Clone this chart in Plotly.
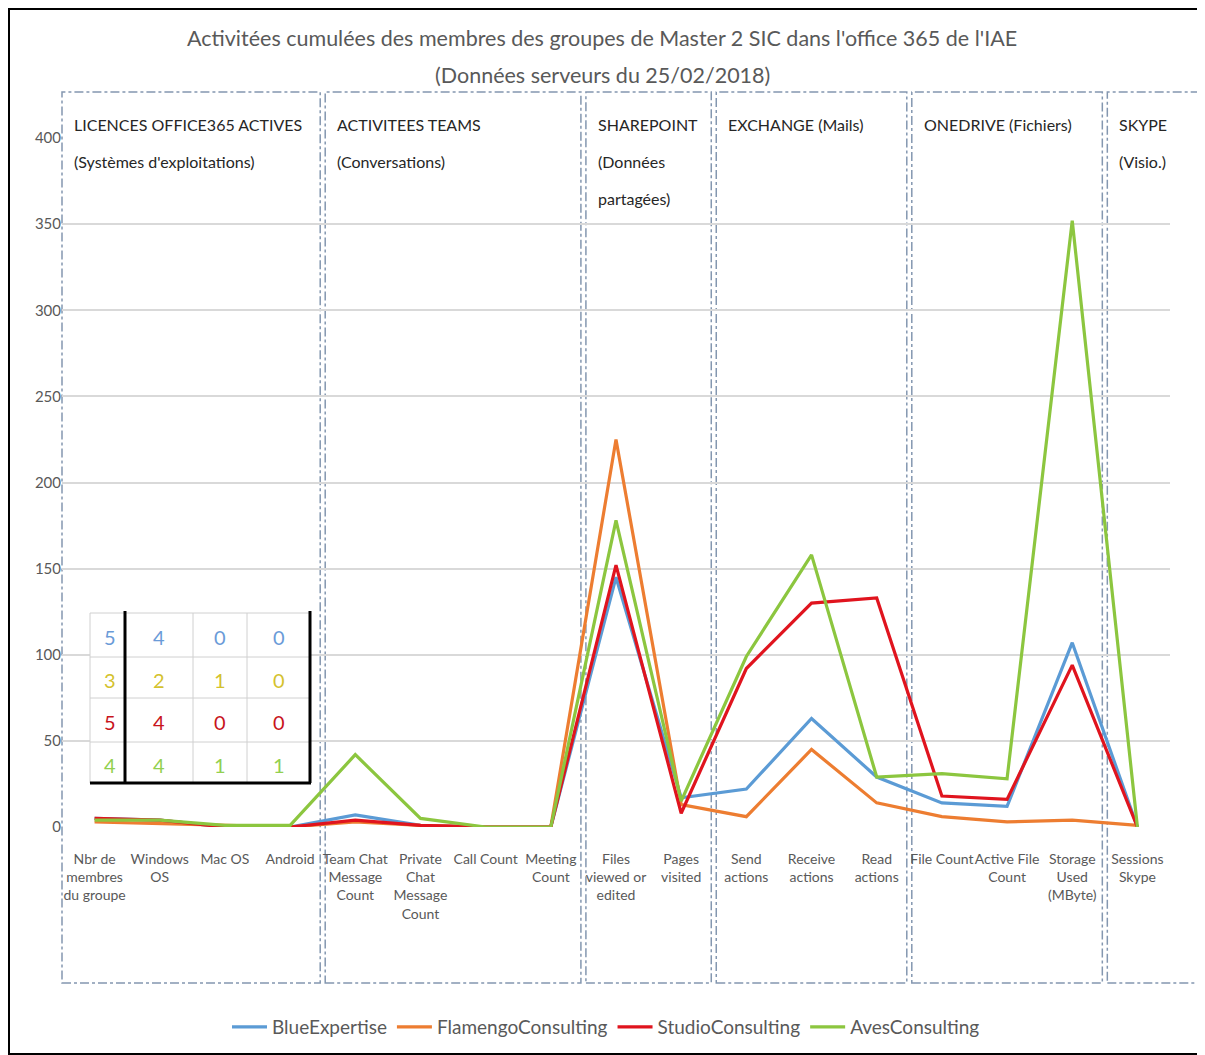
import plotly.graph_objects as go

# ---------------- data ----------------
categories = [
    "Nbr de<br>membres<br>du groupe", "Windows<br>OS", "Mac OS", "Android",
    "Team Chat<br>Message<br>Count", "Private<br>Chat<br>Message<br>Count", "Call Count", "Meeting<br>Count",
    "Files<br>viewed or<br>edited", "Pages<br>visited",
    "Send<br>actions", "Receive<br>actions", "Read<br>actions",
    "File Count", "Active File<br>Count", "Storage<br>Used<br>(MByte)",
    "Sessions<br>Skype",
]
blue_expertise      = [5, 4, 0, 0, 7, 1, 0, 0, 145, 17, 22, 63, 29, 14, 12, 107, 0]
flamengo_consulting = [3, 2, 1, 0, 3, 1, 0, 0, 225, 13, 6, 45, 14, 6, 3, 4, 1]
studio_consulting   = [5, 4, 0, 0, 4, 1, 0, 0, 152, 8, 92, 130, 133, 18, 16, 94, 0]
aves_consulting     = [4, 4, 1, 1, 42, 5, 0, 0, 178, 15, 99, 158, 29, 31, 28, 352, 0]

series_names = ["BlueExpertise", "FlamengoConsulting", "StudioConsulting", "AvesConsulting"]
series_values = [blue_expertise, flamengo_consulting, studio_consulting, aves_consulting]

group_names = [
    "LICENCES OFFICE365 ACTIVES\n(Systèmes d'exploitations)",
    "ACTIVITEES TEAMS\n(Conversations)",
    "SHAREPOINT\n(Données\npartagées)",
    "EXCHANGE (Mails)",
    "ONEDRIVE (Fichiers)",
    "SKYPE\n(Visio.)",
]
group_sizes = [4, 4, 2, 3, 3, 1]

y_ticks = [0, 50, 100, 150, 200, 250, 300, 350, 400]
title_lines = [
    "Activitées cumulées des membres des groupes de Master 2 SIC dans l'office 365 de l'IAE",
    "(Données serveurs du 25/02/2018)",
]

# ---------------- styling ----------------
line_colors = ["#5B9BD5", "#ED7D31", "#E0141E", "#8CC63F"]
table_colors = ["#6A9BD8", "#D4C22E", "#C8141C", "#92D050"]
FONT = "Lato, Roboto, Liberation Sans, sans-serif"
OFF = 8                      # page body margin
W, H = 1205 - OFF, 1055 - OFF
# plot area in reference-image pixels
RL, RR, RT, RB = 62, 1170, 138, 827


def px(x):
    return (x - RL) / (RR - RL)


def py(y):
    return (RB - y) / (RB - RT)


n_cat = len(categories)
fig = go.Figure()
for name, vals, col in zip(series_names, series_values, line_colors):
    fig.add_trace(go.Scatter(
        x=list(range(n_cat)), y=vals, mode="lines", name=name,
        line=dict(color=col, width=3.2),
    ))

shapes = []
annotations = []

# title
for i, t in enumerate(title_lines):
    annotations.append(dict(
        text=t, xref="paper", yref="paper", x=px(602), y=py(38 + 37 * i),
        xanchor="center", yanchor="middle", showarrow=False,
        font=dict(family=FONT, size=21.5, color="#595959"),
    ))

# group boxes and headers
start = 0
for gi, (gname, gsize) in enumerate(zip(group_names, group_sizes)):
    left = start / n_cat
    right = (start + gsize) / n_cat
    gap = 2.5 / (RR - RL)
    x0 = left + (gap if gi > 0 else 0)
    x1 = right - gap if gi < len(group_sizes) - 1 else px(1203)
    shapes.append(dict(
        type="rect", xref="paper", yref="paper", x0=x0, x1=x1, y0=py(983), y1=py(92),
        line=dict(color="#8497B0", width=1.5, dash="dashdot"), fillcolor="rgba(0,0,0,0)",
        layer="below",
    ))
    for li, ln in enumerate(gname.split("\n")):
        annotations.append(dict(
            text=ln, xref="paper", yref="paper", x=x0 + 10 / (RR - RL), y=py(124 + 37 * li),
            xanchor="left", yanchor="middle", showarrow=False,
            font=dict(family=FONT, size=16, color="#262626"),
        ))
    start += gsize

# inset table of first-group values
tbl_cols = [90, 125, 193, 247, 310]
tbl_rows = [613, 657, 698, 742, 783]
shapes.append(dict(type="rect", xref="paper", yref="paper",
                   x0=px(tbl_cols[0]), x1=px(tbl_cols[-1]), y0=py(tbl_rows[-1]), y1=py(tbl_rows[0]),
                   line=dict(color="#D0D0D0", width=1), fillcolor="white", layer="above"))
for xc in tbl_cols[2:-1]:
    shapes.append(dict(type="line", xref="paper", yref="paper", x0=px(xc), x1=px(xc),
                       y0=py(tbl_rows[-1]), y1=py(tbl_rows[0]), line=dict(color="#D0D0D0", width=1)))
for yr in tbl_rows[1:-1]:
    shapes.append(dict(type="line", xref="paper", yref="paper", x0=px(tbl_cols[0]), x1=px(tbl_cols[-1]),
                       y0=py(yr), y1=py(yr), line=dict(color="#D0D0D0", width=1)))
for (a, b, c, d) in [(tbl_cols[1], tbl_rows[0] - 2, tbl_cols[1], tbl_rows[-1]),
                     (tbl_cols[-1], tbl_rows[0] - 2, tbl_cols[-1], tbl_rows[-1]),
                     (tbl_cols[0], tbl_rows[-1], tbl_cols[-1] + 1, tbl_rows[-1])]:
    shapes.append(dict(type="line", xref="paper", yref="paper", x0=px(a), x1=px(c),
                       y0=py(b), y1=py(d), line=dict(color="black", width=3)))
n_first = group_sizes[0]
for ri, (vals, col) in enumerate(zip(series_values, table_colors)):
    for ci in range(n_first):
        xc = (tbl_cols[ci] + tbl_cols[ci + 1]) / 2 + (2 if ci == 0 else 0)
        yc = (tbl_rows[ri] + tbl_rows[ri + 1]) / 2 + 2
        annotations.append(dict(
            text=str(vals[ci]), xref="paper", yref="paper", x=px(xc), y=py(yc),
            xanchor="center", yanchor="middle", showarrow=False,
            font=dict(family=FONT, size=20, color=col),
        ))

# outer frame
shapes.append(dict(type="rect", xref="paper", yref="paper",
                   x0=px(OFF + 1), x1=px(OFF + W - 1), y0=py(OFF + H - 1), y1=py(OFF + 1),
                   line=dict(color="black", width=2), fillcolor="rgba(0,0,0,0)"))

fig.update_layout(
    width=W, height=H,
    margin=dict(l=RL - OFF, r=W - (RR - OFF), t=RT - OFF, b=H - (RB - OFF), autoexpand=False),
    paper_bgcolor="white", plot_bgcolor="white",
    showlegend=True,
    legend=dict(orientation="h", x=px(606), y=py(1027), xanchor="center", yanchor="middle",
                font=dict(family=FONT, size=19, color="#595959"), itemwidth=35,
                tracegroupgap=0),
    xaxis=dict(type="linear", range=[-0.5, n_cat - 0.5], showgrid=False, zeroline=False,
               showline=False, tickmode="array", tickvals=list(range(n_cat)), ticktext=categories,
               tickangle=0, ticklabelstandoff=22,
               tickfont=dict(family=FONT, size=14, color="#595959"), ticks=""),
    yaxis=dict(range=[0, 400], tickmode="array", tickvals=y_ticks, showgrid=True,
               gridcolor="#D9D9D9", gridwidth=1.5, zeroline=False, showline=False,
               tickfont=dict(family=FONT, size=15, color="#595959"), ticks=""),
    shapes=shapes, annotations=annotations,
)

fig.write_html("out.html")
